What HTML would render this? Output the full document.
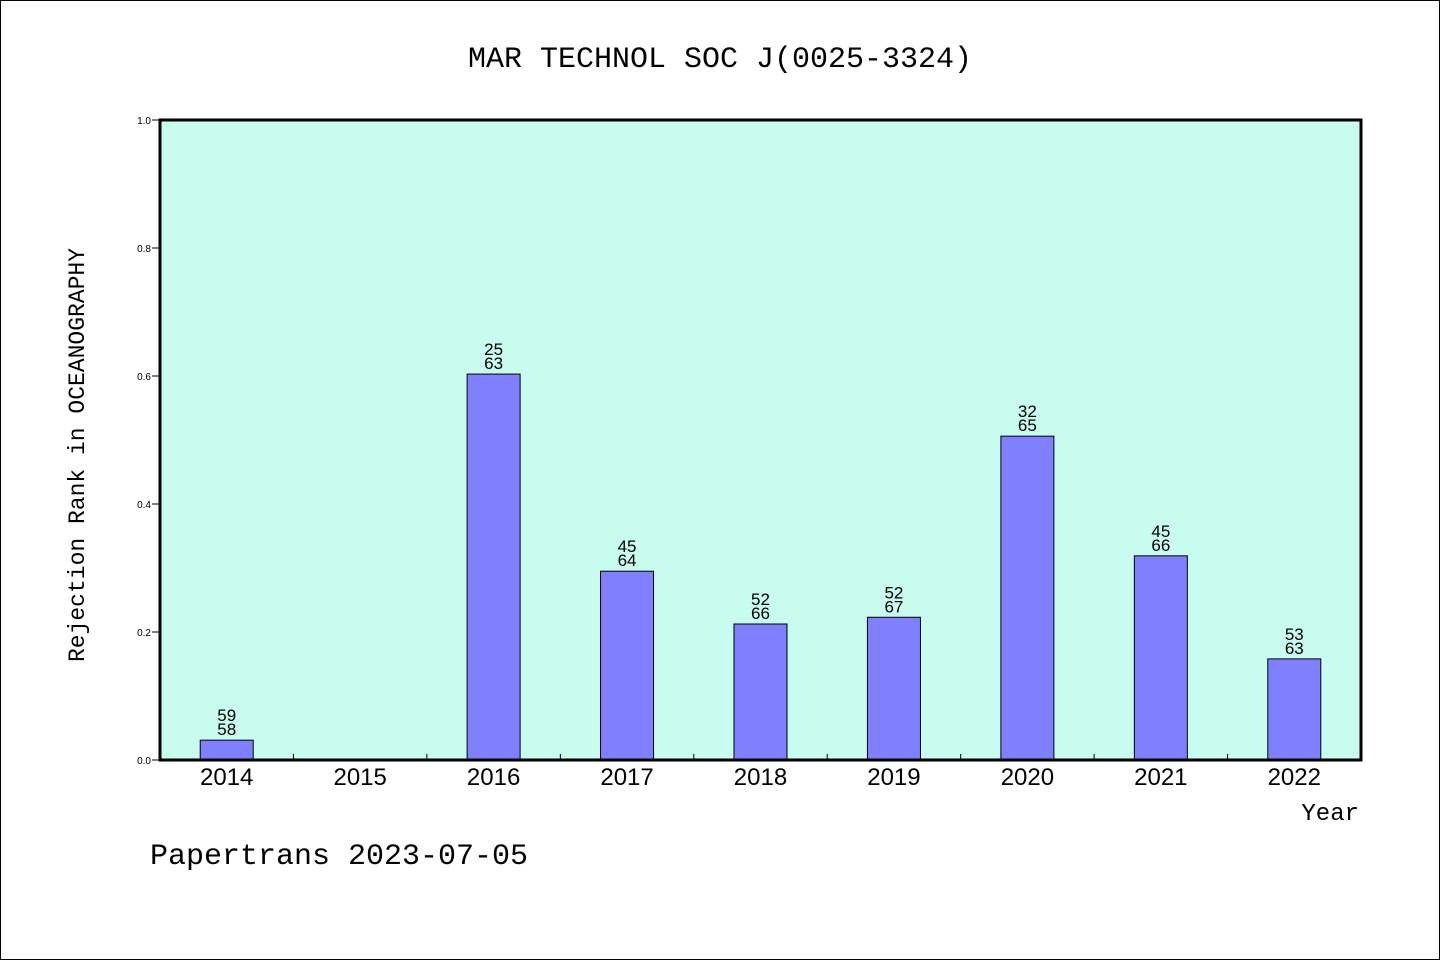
<!DOCTYPE html>
<html><head><meta charset="utf-8"><style>
html,body{margin:0;padding:0;background:#fff}
svg{display:block}
</style></head><body>
<svg id="chart" width="1440" height="960" xmlns="http://www.w3.org/2000/svg">
<rect x="0.5" y="0.5" width="1439" height="959" fill="#fff" stroke="#000"/>
<text x="720" y="67" text-anchor="middle" font-family="Liberation Mono, monospace" font-size="30">MAR TECHNOL SOC J(0025-3324)</text>
<rect x="160" y="120" width="1201" height="640" fill="#c8fcee"/>
<g id="bars"></g>
<g id="axes"></g>
<rect x="160" y="120" width="1201" height="640" fill="none" stroke="#000" stroke-width="3"/>
<text transform="translate(84,455) rotate(-90)" text-anchor="middle" font-family="Liberation Mono, monospace" font-size="23">Rejection Rank in OCEANOGRAPHY</text>
<text x="1359" y="820" text-anchor="end" font-family="Liberation Mono, monospace" font-size="24">Year</text>
<text x="150" y="864" font-family="Liberation Mono, monospace" font-size="30">Papertrans 2023-07-05</text>
</svg>
<script>
const years = ["2014","2015","2016","2017","2018","2019","2020","2021","2022"];
const values = [0.031, null, 0.603, 0.295, 0.2125, 0.223, 0.506, 0.319, 0.158];
const rankTop = ["59", "", "25", "45", "52", "52", "32", "45", "53"];
const rankBottom = ["58", "", "63", "64", "66", "67", "65", "66", "63"];
const yTicks = [0, 0.2, 0.4, 0.6, 0.8, 1.0];
const yTickLabels = ["0.0","0.2","0.4","0.6","0.8","1.0"];

const NS = "http://www.w3.org/2000/svg";
const X0 = 160, X1 = 1361, Y0 = 760, Y1 = 120;
const band = (X1 - X0) / years.length;
const xC = i => X0 + band * (i + 0.5);
const yS = v => Y0 - (v - 0) / (1 - 0) * (Y0 - Y1);
const barW = 53;
function mk(tag, attrs, parent, txt) {
  const e = document.createElementNS(NS, tag);
  for (const k in attrs) e.setAttribute(k, attrs[k]);
  if (txt !== undefined) e.textContent = txt;
  parent.appendChild(e);
  return e;
}
const bars = document.getElementById("bars");
const axes = document.getElementById("axes");
years.forEach((yr, i) => {
  const v = values[i];
  if (v !== null && v !== undefined) {
    const r = mk("rect", {x: xC(i) - barW / 2, y: yS(v), width: barW, height: Y0 - yS(v), fill: "#8080ff", stroke: "#000", "stroke-width": 1}, bars);
    
    
    const t1 = mk("text", {x: xC(i), y: yS(v) - 19, "text-anchor": "middle", "font-family": "Liberation Sans, sans-serif", "font-size": 17}, bars, rankTop[i]);
    
    
    const t2 = mk("text", {x: xC(i), y: yS(v) - 5, "text-anchor": "middle", "font-family": "Liberation Sans, sans-serif", "font-size": 17}, bars, rankBottom[i]);
    
    
  }
  const xl = mk("text", {x: xC(i), y: 785, "text-anchor": "middle", "font-family": "Liberation Sans, sans-serif", "font-size": 24}, axes, yr);
  
  
  if (i > 0) {
    const tk = mk("line", {x1: X0 + band * i, x2: X0 + band * i, y1: Y0, y2: Y0 - 6, stroke: "#000", "stroke-width": 1}, axes);
    
    
  }
});
yTicks.forEach((v, i) => {
  const tk = mk("line", {x1: X0 - 8, x2: X0, y1: yS(v), y2: yS(v), stroke: "#000", "stroke-width": 1}, axes);
  
  
  const lb = mk("text", {x: 151, y: yS(v) + 4, "text-anchor": "end", "font-family": "Liberation Sans, sans-serif", "font-size": 10}, axes, yTickLabels[i]);
  
  
});
</script>
</body></html>
